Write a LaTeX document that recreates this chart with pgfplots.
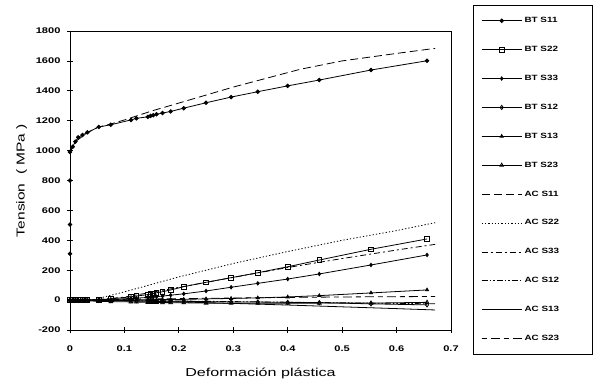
\documentclass[border=0pt]{standalone}
\usepackage{fontspec}
\setmainfont{Liberation Sans}
\usepackage{graphicx}
\usepackage{pgfplots}
\pgfplotsset{compat=1.18}
\newcommand{\wide}[1]{\scalebox{1.35}[1]{#1}}
\newcommand{\lwide}[1]{\scalebox{1.3}[1]{#1}}
\begin{document}
\begin{tikzpicture}
\useasboundingbox (0,0) rectangle (599pt,381pt);
\begin{axis}[
  at={(70pt,51pt)}, anchor=south west,
  scale only axis, width=381pt, height=299pt,
  xmin=0, xmax=0.7, ymin=-200, ymax=1800,
  xtick={0,0.1,...,0.7}, ytick={-200,0,...,1800},
  xtick pos=bottom, ytick pos=left,
  tick align=center, major tick length=6pt,
  axis line style={line width=0.8pt},
  every tick/.style={black, line width=0.8pt},
  /pgf/number format/assume math mode=true,
  /pgf/number format/1000 sep={},
  xticklabel={\wide{\pgfmathprintnumber{\tick}}},
  yticklabel={\wide{\pgfmathprintnumber{\tick}}},
  ticklabel style={font=\bfseries\fontsize{8.2}{9}\selectfont},
  xticklabel style={yshift=-9pt},
  yticklabel style={xshift=-3pt},
  xlabel={\scalebox{1.4}[1]{Deformación plástica}},
  ylabel={\wide{Tension \ ( MPa )}},
  label style={font=\fontsize{11.5}{13}\selectfont},
  xlabel style={yshift=-10pt},
  ylabel style={yshift=2pt},
  legend style={at={(1.0577,1.087)}, anchor=north west, draw=black, line width=0.6pt,
    inner xsep=8pt, inner ysep=1pt, row sep=0pt,
    nodes={minimum height=28.9pt, inner ysep=0pt, inner xsep=2.5pt},
    font=\bfseries\fontsize{7.6}{9}\selectfont},
  legend cell align=left,
  legend image code/.code={\draw[mark repeat=2,mark phase=2,#1] plot coordinates {(0pt,0pt) (20pt,0pt) (40pt,0pt)};},
  every axis plot/.append style={black, line width=0.8pt},
]
% BT S11
\addplot[mark=*, mark size=1.8pt] coordinates {
(0,0)(0,310)(0,505)(0,800)(0,990)(0.005,1026)(0.01,1060)(0.015,1089)(0.023,1104)(0.032,1122)(0.053,1158)(0.075,1173)(0.112,1205)(0.122,1216)(0.143,1226)(0.148,1232)(0.153,1237)(0.159,1243)(0.17,1251)(0.185,1262)(0.209,1284)(0.25,1320)(0.296,1358)(0.345,1394)(0.4,1433)(0.458,1472)(0.553,1539)(0.656,1601)};
\addlegendentry{\makebox[57.5pt][l]{\lwide{BT S11}}}
% BT S22
\addplot[mark=square, mark size=2.3pt, mark options={solid, fill=white}] coordinates {
(0,0)(0.005,0)(0.01,0)(0.015,0)(0.023,0)(0.032,0)(0.053,3)(0.075,8)(0.112,22)(0.122,27)(0.143,37)(0.148,40)(0.153,44)(0.159,49)(0.17,56)(0.185,68)(0.209,90)(0.25,119)(0.296,150)(0.345,183)(0.4,223)(0.458,268)(0.553,340)(0.656,409)};
\addlegendentry{\lwide{BT S22}}
% BT S33
\addplot[mark=diamond*, mark size=1.7pt] coordinates {
(0,0)(0.005,0)(0.01,0)(0.015,0)(0.023,0)(0.032,0)(0.053,2)(0.075,5)(0.112,11)(0.122,13)(0.143,18)(0.148,19)(0.153,21)(0.159,23)(0.17,27)(0.185,33)(0.209,42)(0.25,61)(0.296,86)(0.345,112)(0.4,141)(0.458,175)(0.553,235)(0.656,302)};
\addlegendentry{\lwide{BT S33}}
% BT S12
\addplot[mark=diamond, mark size=2.1pt, mark options={fill=white}] coordinates {
(0,0)(0.005,0)(0.01,0)(0.015,-1)(0.023,-1)(0.032,-1)(0.053,-2)(0.075,-2)(0.112,-3)(0.122,-4)(0.143,-5)(0.148,-5)(0.153,-5)(0.159,-6)(0.17,-6)(0.185,-7)(0.209,-8)(0.25,-10)(0.296,-12)(0.345,-13)(0.4,-15)(0.458,-17)(0.553,-25)(0.656,-32)};
\addlegendentry{\lwide{BT S12}}
% BT S13
\addplot[mark=triangle*, mark size=1.8pt] coordinates {
(0,0)(0.005,0)(0.01,0)(0.015,0)(0.023,0)(0.032,0)(0.053,0)(0.075,1)(0.112,2)(0.122,2)(0.143,3)(0.148,3)(0.153,3)(0.159,3)(0.17,4)(0.185,4)(0.209,5)(0.25,8)(0.296,11)(0.345,15)(0.4,21)(0.458,30)(0.553,48)(0.656,68)};
\addlegendentry{\lwide{BT S13}}
% BT S23
\addplot[mark=triangle, mark size=2.1pt, mark options={fill=white}] coordinates {
(0,0)(0.005,-1)(0.01,-2)(0.015,-3)(0.023,-4)(0.032,-5)(0.053,-8)(0.075,-10)(0.112,-12)(0.122,-13)(0.143,-15)(0.148,-15)(0.153,-16)(0.159,-16)(0.17,-17)(0.185,-17)(0.209,-18)(0.25,-20)(0.296,-21)(0.345,-21)(0.4,-21)(0.458,-20)(0.553,-20)(0.656,-15)};
\addlegendentry{\lwide{BT S23}}
% AC S11
\addplot[dash pattern=on 8pt off 4pt] coordinates {
(0,990)(0.01,1060)(0.03,1115)(0.05,1155)(0.075,1178)(0.1,1205)(0.15,1265)(0.2,1318)(0.3,1425)(0.423,1544)(0.5,1600)(0.6,1650)(0.671,1684)};
\addlegendentry{\lwide{AC S11}}
% AC S22
\addplot[dash pattern=on 1.3pt off 2pt] coordinates {
(0,0)(0.04,0)(0.1,55)(0.2,155)(0.3,245)(0.4,325)(0.5,400)(0.6,465)(0.671,518)};
\addlegendentry{\lwide{AC S22}}
% AC S33
\addplot[dash pattern=on 6pt off 3pt on 2pt off 3pt] coordinates {
(0,0)(0.04,0)(0.1,20)(0.2,85)(0.3,152)(0.4,218)(0.5,278)(0.6,335)(0.671,373)};
\addlegendentry{\lwide{AC S33}}
% AC S12
\addplot[dash pattern=on 6pt off 2pt on 1.5pt off 2pt on 1.5pt off 2pt] coordinates {
(0,0)(0.1,-3)(0.2,-6)(0.3,-10)(0.4,-14)(0.5,-18)(0.6,-22)(0.671,-25)};
\addlegendentry{\lwide{AC S12}}
% AC S13
\addplot[solid] coordinates {
(0,0)(0.1,-5)(0.2,-12)(0.3,-22)(0.4,-33)(0.5,-45)(0.6,-57)(0.671,-66)};
\addlegendentry{\lwide{AC S13}}
% AC S23
\addplot[dash pattern=on 5pt off 4pt on 9pt off 4pt] coordinates {
(0,0)(0.1,5)(0.2,10)(0.3,14)(0.4,18)(0.5,21)(0.6,23)(0.671,24)};
\addlegendentry{\lwide{AC S23}}
\end{axis}
\end{tikzpicture}
\end{document}
